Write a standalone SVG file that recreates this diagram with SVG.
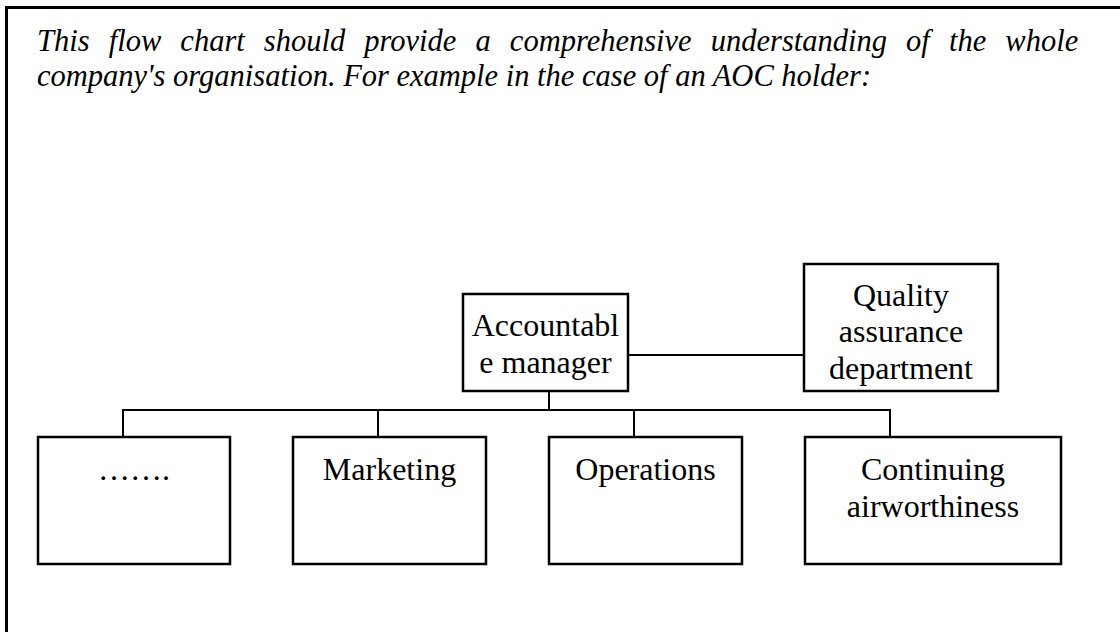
<svg xmlns="http://www.w3.org/2000/svg" width="1120" height="632" viewBox="0 0 1120 632">
<style>
.box{fill:#fff;stroke:#000;stroke-width:2.5}
.lbl{font-family:"Liberation Serif","Times New Roman",serif;font-size:32px;fill:#000;text-anchor:middle}
.title{font-family:"Liberation Serif","Times New Roman",serif;font-size:30.5px;font-style:italic;fill:#000}
.conn{fill:none;stroke:#000;stroke-width:2}
</style>
<rect width="1120" height="632" fill="#fff"/>
<path d="M6.5,632 V7.5 H1120" fill="none" stroke="#000" stroke-width="3"/>
<text class="title" x="37" y="51" word-spacing="11.5">This flow chart should provide a comprehensive understanding of the whole</text>
<text class="title" x="37" y="86">company's organisation. For example in the case of an AOC holder:</text>
<g id="connectors">
<path class="conn" d="M628,355 H804"/>
<path class="conn" d="M549,391 V410"/>
<path class="conn" d="M123,437 V410 H890 V437"/>
<path class="conn" d="M378,410 V437"/>
<path class="conn" d="M634,410 V437"/>
</g>
<g id="manager">
<rect class="box" x="463" y="294" width="165" height="97"/>
<text class="lbl" x="545.5" y="336">Accountabl</text>
<text class="lbl" x="545.5" y="373">e manager</text>
</g>
<g id="quality">
<rect class="box" x="804" y="264" width="194" height="127"/>
<text class="lbl" x="901" y="306">Quality</text>
<text class="lbl" x="901" y="342">assurance</text>
<text class="lbl" x="901" y="379">department</text>
</g>
<g id="dots">
<rect class="box" x="38" y="437" width="192" height="127"/>
<text class="lbl" x="134" y="480">…….</text>
</g>
<g id="marketing">
<rect class="box" x="293" y="437" width="193" height="127"/>
<text class="lbl" x="389.5" y="480">Marketing</text>
</g>
<g id="operations">
<rect class="box" x="549" y="437" width="193" height="127"/>
<text class="lbl" x="645.5" y="480">Operations</text>
</g>
<g id="airworthiness">
<rect class="box" x="805" y="437" width="256" height="127"/>
<text class="lbl" x="933" y="480">Continuing</text>
<text class="lbl" x="933" y="517">airworthiness</text>
</g>
</svg>
